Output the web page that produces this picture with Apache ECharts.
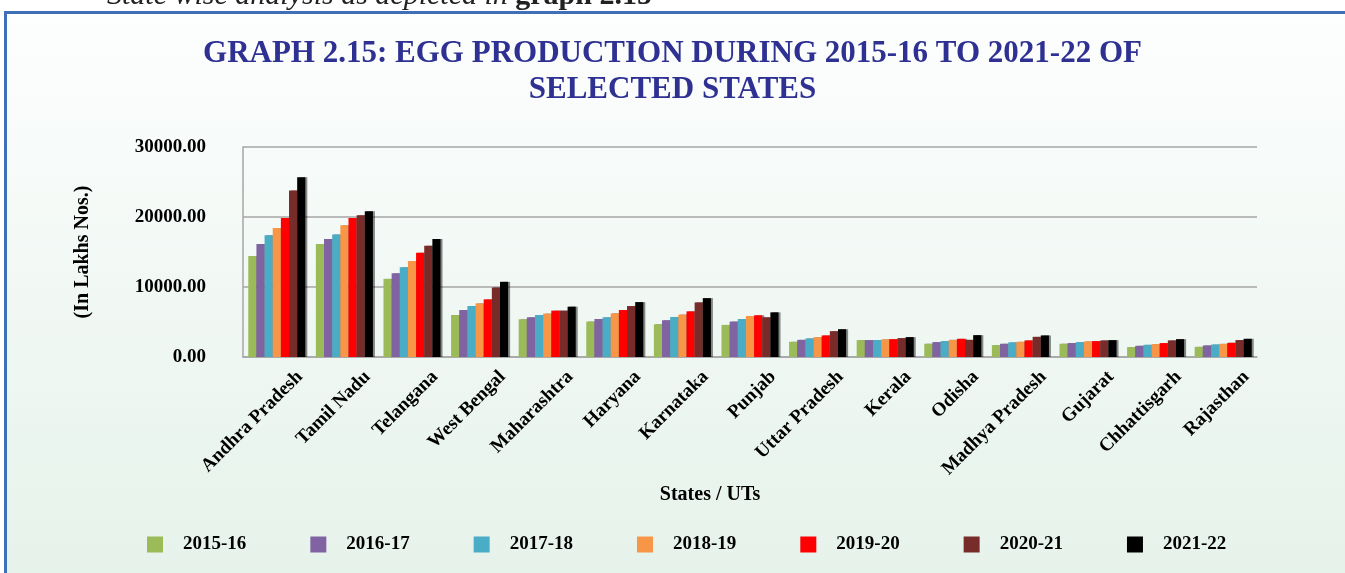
<!DOCTYPE html>
<html>
<head>
<meta charset="utf-8">
<script src="https://cdn.jsdelivr.net/npm/echarts@6/dist/echarts.min.js"></script>
<style>
  html, body { margin: 0; padding: 0; background: #fff; }
  #chart { width: 1345px; height: 573px; }
</style>
</head>
<body>
<div id="chart"></div>
<script>
const states = ['Andhra Pradesh', 'Tamil Nadu', 'Telangana', 'West Bengal', 'Maharashtra', 'Haryana',
  'Karnataka', 'Punjab', 'Uttar Pradesh', 'Kerala', 'Odisha', 'Madhya Pradesh', 'Gujarat',
  'Chhattisgarh', 'Rajasthan']
const years = ['2015-16', '2016-17', '2017-18', '2018-19', '2019-20', '2020-21', '2021-22']

// egg production, in lakhs nos. — one array per year
const y2015 = [14430, 16130, 11160, 6000, 5390, 5060, 4680, 4580, 2170, 2410, 1890, 1700, 1890, 1420, 1450]
const y2016 = [16130, 16840, 11960, 6710, 5670, 5430, 5250, 5060, 2450, 2410, 2130, 1890, 1990, 1600, 1650]
const y2017 = [17400, 17490, 12810, 7280, 6000, 5670, 5720, 5430, 2650, 2410, 2270, 2090, 2130, 1740, 1780]
const y2018 = [18440, 18820, 13720, 7660, 6200, 6240, 6060, 5860, 2840, 2510, 2450, 2170, 2230, 1840, 1880]
const y2019 = [19860, 19860, 14890, 8230, 6620, 6710, 6520, 5960, 3080, 2550, 2600, 2370, 2270, 1990, 2030]
const y2020 = [23790, 20240, 15890, 9930, 6620, 7280, 7800, 5670, 3690, 2700, 2450, 2880, 2370, 2370, 2420]
const y2021 = [25670, 20810, 16840, 10740, 7190, 7840, 8410, 6380, 3970, 2840, 3120, 3080, 2410, 2550, 2600]

const yTicks = [0, 10000, 20000, 30000]

const allSeries = [y2015, y2016, y2017, y2018, y2019, y2020, y2021]
const colors = ['#9bbb59', '#8064a2', '#4bacc6', '#f79646', '#ff0000', '#772c2a', '#000000']
const serif = '"Liberation Serif", "DejaVu Serif", serif'

const chart = echarts.init(document.getElementById('chart'))
chart.setOption({
  animation: false,
  color: colors,
  title: {
    text: 'GRAPH 2.15: EGG PRODUCTION DURING 2015-16 TO 2021-22 OF\nSELECTED STATES',
    left: 'center',
    top: 31,
    textStyle: {
      fontFamily: serif,
      fontWeight: 'bold',
      fontSize: 31,
      lineHeight: 36,
      color: '#2e3192'
    }
  },
  graphic: [
    {
      type: 'rect', z: -10, silent: true,
      shape: { x: 5, y: 12, width: 1345, height: 573 },
      style: {
        fill: new echarts.graphic.LinearGradient(0, 0, 0, 1, [
          { offset: 0, color: '#fdfefe' },
          { offset: 1, color: '#e5f2ea' }
        ])
      }
    },
    { type: 'rect', silent: true, shape: { x: 4, y: 11, width: 1345, height: 3 }, style: { fill: '#3f6fb6' } },
    { type: 'rect', silent: true, shape: { x: 4, y: 11, width: 3, height: 573 }, style: { fill: '#3f6fb6' } },
    {
      type: 'text', silent: true, left: 107, top: -19,
      style: {
        text: '{a|State wise analysis as depicted in }{b|graph 2.15}',
        rich: {
          a: { fontFamily: serif, fontStyle: 'italic', fontSize: 30, fill: '#222' },
          b: { fontFamily: serif, fontWeight: 'bold', fontSize: 30, fill: '#222' }
        }
      }
    }
  ],
  grid: { left: 243, right: 88, top: 147, bottom: 216 },
  legend: {
    data: years,
    bottom: 14,
    left: 142,
    itemWidth: 16,
    itemHeight: 16,
    itemGap: 64,
    icon: 'rect',
    textStyle: {
      fontFamily: serif,
      fontWeight: 'bold',
      fontSize: 19,
      color: '#000',
      padding: [3, 0, 0, 15]
    }
  },
  xAxis: {
    type: 'category',
    data: states,
    name: 'States / UTs',
    nameLocation: 'middle',
    nameGap: 128,
    nameTextStyle: {
      fontFamily: serif, fontWeight: 'bold', fontSize: 20, color: '#000',
      padding: [0, 80, 0, 0]
    },
    axisLine: { lineStyle: { color: '#a6a6a6', width: 1.5 } },
    axisTick: { show: false },
    axisLabel: {
      interval: 0,
      rotate: 45,
      margin: -6,
      verticalAlign: 'top',
      padding: [23, 0, 0, 0],
      fontFamily: serif,
      fontWeight: 'bold',
      fontSize: 19,
      color: '#000'
    }
  },
  yAxis: {
    type: 'value',
    min: yTicks[0],
    max: yTicks[yTicks.length - 1],
    interval: 10000,
    name: '(In Lakhs Nos.)',
    nameLocation: 'middle',
    nameRotate: 90,
    nameGap: 150,
    nameTextStyle: { fontFamily: serif, fontWeight: 'bold', fontSize: 20, color: '#000' },
    axisLine: { show: true, lineStyle: { color: '#a6a6a6', width: 1.5 } },
    axisTick: { show: false },
    splitLine: { lineStyle: { color: '#a6a6a6', width: 1.5 } },
    axisLabel: {
      margin: 37,
      fontFamily: serif,
      fontWeight: 'bold',
      fontSize: 19,
      color: '#000',
      formatter: v => v.toFixed(2)
    }
  },
  series: allSeries.map((vals, i) => ({
    name: years[i],
    type: 'bar',
    data: vals,
    barGap: '0%',
    barCategoryGap: '15.6%',
    itemStyle: {
      color: colors[i],
      shadowColor: 'rgba(0,0,0,0.45)',
      shadowOffsetX: 2,
      shadowOffsetY: 0,
      shadowBlur: 0
    }
  }))
})
</script>
</body>
</html>
